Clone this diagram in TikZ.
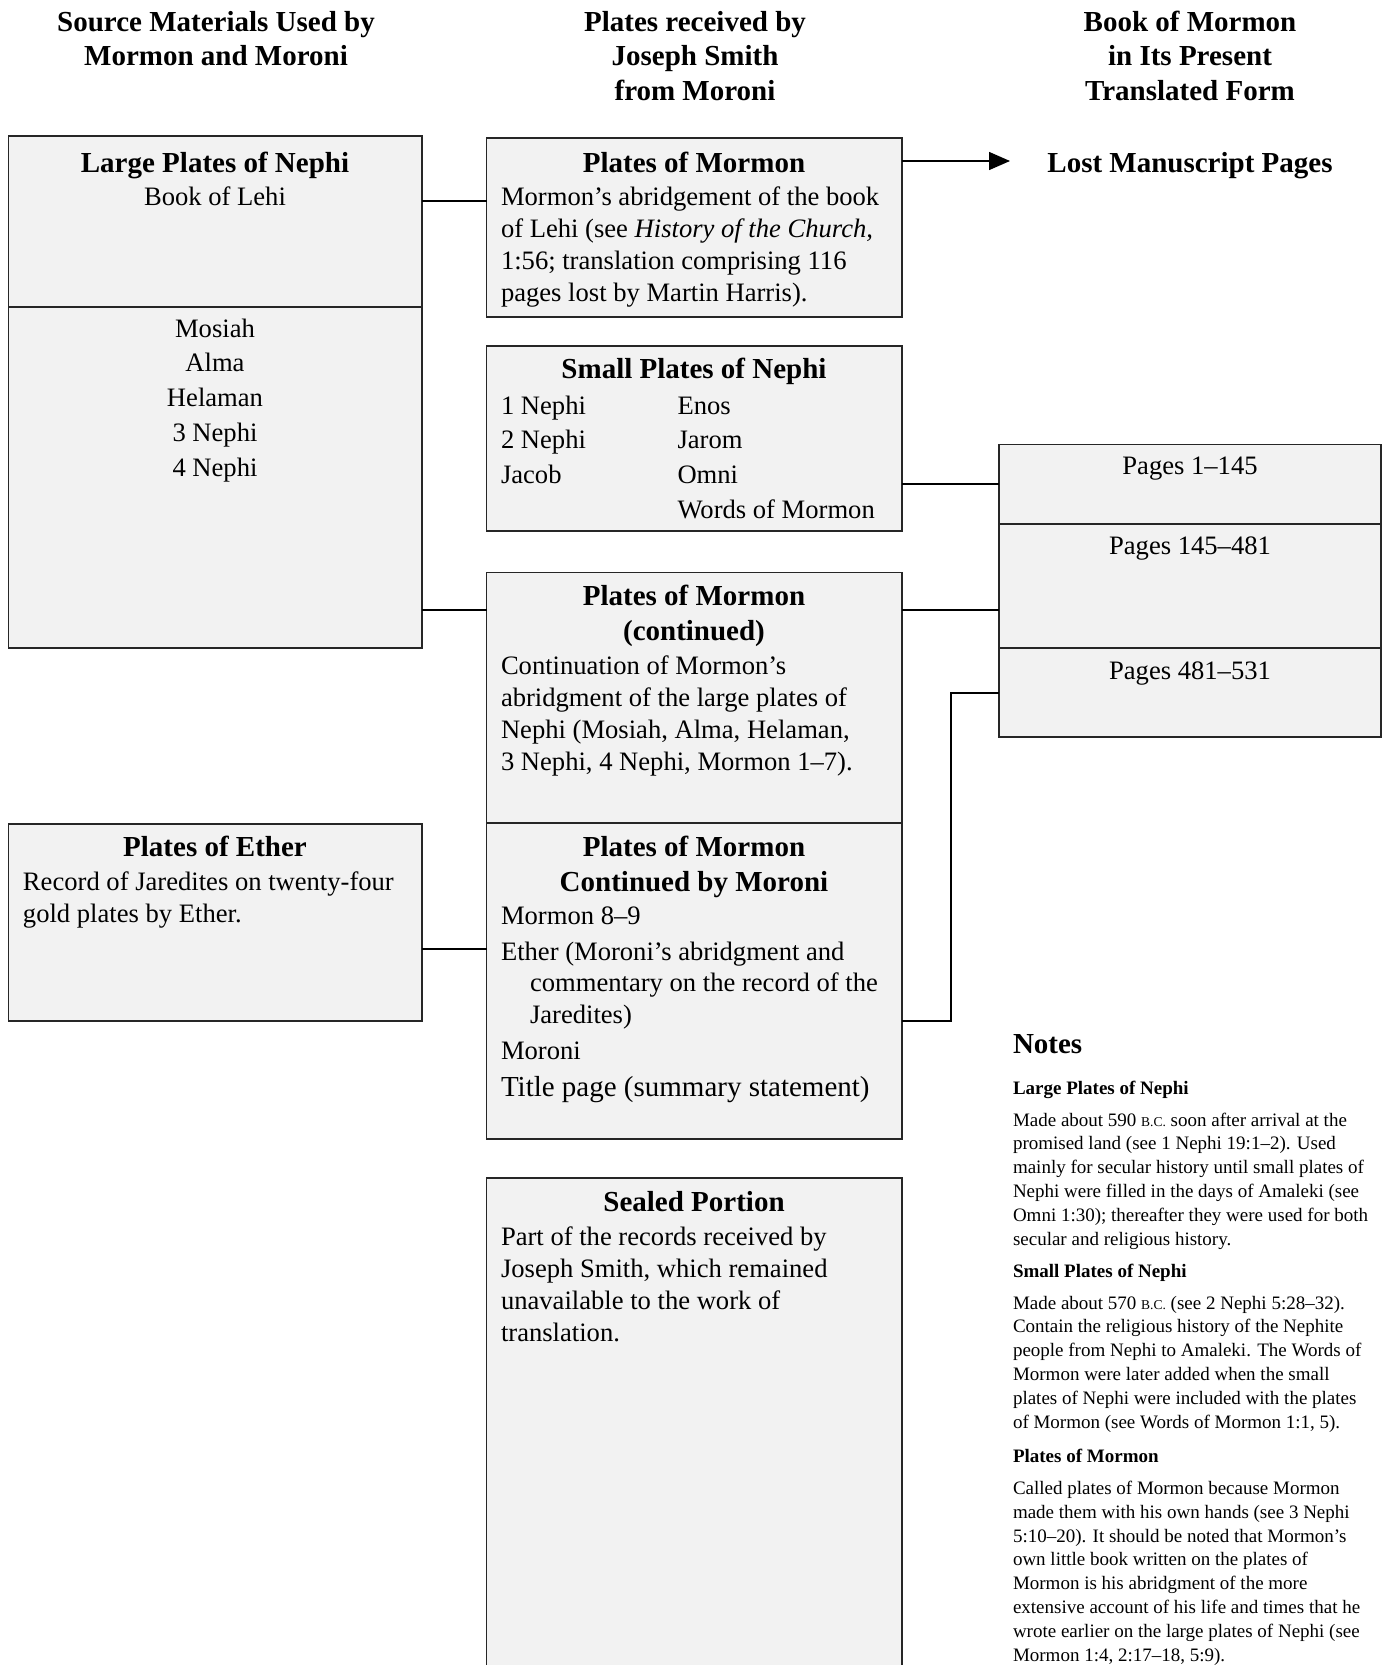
\documentclass[tikz,border=0pt]{standalone}
\usepackage{fontspec}
\setmainfont{Liberation Serif}
\usetikzlibrary{arrows.meta}
\definecolor{boxfill}{HTML}{F2F2F2}
\newcommand\fHead{\fontsize{29}{34.5}\selectfont\bfseries}
\newcommand\fBody{\fontsize{26.6}{32}\selectfont}
\newcommand\fList{\fontsize{26.6}{34.8}\selectfont}
\newcommand\fBig{\fontsize{29}{34}\selectfont}
\newcommand\fNote{\fontsize{19}{23.8}\selectfont}
\newcommand\fNoteHead{\fontsize{19}{23.8}\selectfont\bfseries}
\newcommand\fNotes{\fontsize{29}{34}\selectfont\bfseries}
\newcommand\smBC{{\fontsize{13.5}{20}\selectfont B.C.}}
\begin{document}
\begin{tikzpicture}[x=1pt, y=-1pt,
  every node/.style={inner sep=0pt, outer sep=0pt},
  box/.style={draw=black!85, line width=1.4pt, fill=boxfill, anchor=north west, inner sep=0pt},
  tc/.style={anchor=base, align=center},
  tl/.style={anchor=base west, align=left},
  conn/.style={draw=black, line width=2pt}]
\useasboundingbox (0,0) rectangle (1384,1665);
\fill[white] (0,0) rectangle (1384,1665);

% column headings (multi-line nodes: positioned at the baseline of their last line)
\node[tc, font=\fHead] (h1) at (216,65.5) {Source Materials Used by\\Mormon and Moroni};
\node[tc, font=\fHead] (h2) at (695,100) {Plates received by\\Joseph Smith\\from Moroni};
\node[tc, font=\fHead] (h3) at (1190,100) {Book of Mormon\\in Its Present\\Translated Form};

% boxes
\node[box, minimum width=413.5pt, minimum height=171pt] (lp1) at (8.5,136) {};
\node[box, minimum width=413.5pt, minimum height=341pt] (lp2) at (8.5,307) {};
\node[box, minimum width=415.5pt, minimum height=179pt] (pom) at (486.5,138) {};
\node[box, minimum width=415.5pt, minimum height=185pt] (sp) at (486.5,346) {};
\node[box, minimum width=415.5pt, minimum height=250.5pt] (pc) at (486.5,572.5) {};
\node[box, minimum width=415.5pt, minimum height=316pt] (pm) at (486.5,823) {};
\node[box, minimum width=413.5pt, minimum height=197pt] (eth) at (8.5,824) {};
\node[box, minimum width=382pt, minimum height=79.5pt] (pg1) at (999,444.5) {};
\node[box, minimum width=382pt, minimum height=124pt] (pg2) at (999,524) {};
\node[box, minimum width=382pt, minimum height=89pt] (pg3) at (999,648) {};
\begin{scope}
\clip (0,0) rectangle (1384,1665);
\node[box, minimum width=415.5pt, minimum height=600pt] (seal) at (486.5,1178) {};
\end{scope}

% connectors
\coordinate (lostTip) at (1010,161);
\coordinate (bend) at (951,1021);
\draw[conn] (lp1.east |- 0,201) -- (pom.west |- 0,201);
\draw[line width=1.5pt, -{Triangle[length=21pt,width=18pt]}] (pom.east |- lostTip) -- (lostTip);
\draw[conn] (sp.east |- 0,484) -- (pg1.west |- 0,484);
\draw[conn] (lp2.east |- 0,610) -- (pc.west |- 0,610);
\draw[conn] (pc.east |- 0,610) -- (pg2.west |- 0,610);
\draw[conn] (eth.east |- 0,949) -- (pm.west |- 0,949);
\draw[conn] (pm.east |- bend) -- (bend) |- (pg3.west);

% texts
\node[tc, font=\fHead] (lost) at (1190,172.5) {Lost Manuscript Pages};

\node[tc, font=\fHead] (lpT) at (215,172.5) {Large Plates of Nephi};
\node[tc, font=\fBody] (lpS) at (215,205) {Book of Lehi};
\node[tc, font=\fList] (lpL) at (215,476.2) {Mosiah\\Alma\\Helaman\\3 Nephi\\4 Nephi};

\node[tc, font=\fHead] (pomT) at (694,172.5) {Plates of Mormon};
\node[tl, font=\fBody] (pomB) at (501,301) {Mormon’s abridgement of the book\\of Lehi (see \textit{History of the Church,}\\1:56; translation comprising 116\\pages lost by Martin Harris).};

\node[tc, font=\fHead] (spT) at (694,378) {Small Plates of Nephi};
\node[tl, font=\fList] (spA) at (501,483.6) {1 Nephi\\2 Nephi\\Jacob};
\node[tl, font=\fList] (spB) at (677.5,518.4) {Enos\\Jarom\\Omni\\Words of Mormon};

\node[tc, font=\fHead] (pcT) at (694,640) {Plates of Mormon\\(continued)};
\node[tl, font=\fBody] (pcB) at (501,770) {Continuation of Mormon’s\\abridgment of the large plates of\\Nephi (Mosiah, Alma, Helaman,\\3 Nephi, 4 Nephi, Mormon 1–7).};

\node[tc, font=\fHead] (pmT) at (694,891) {Plates of Mormon\\Continued by Moroni};
\node[tl, font=\fBody] (pm1) at (501,924) {Mormon 8–9};
\node[tl, font=\fBody] (pm2) at (501,960) {Ether (Moroni’s abridgment and};
\node[tl, font=\fBody] (pm3) at (530,1023.5) {commentary on the record of the\\Jaredites)};
\node[tl, font=\fBody] (pm4) at (501,1059) {Moroni};
\node[tl, font=\fBig] (pm5) at (501,1096) {Title page (summary statement)};

\node[tc, font=\fHead] (ethT) at (215,856.5) {Plates of Ether};
\node[tl, font=\fBody] (ethB) at (23,922) {Record of Jaredites on twenty-four\\gold plates by Ether.};

\node[tc, font=\fBody] (pg1T) at (1190,474) {Pages 1–145};
\node[tc, font=\fBody] (pg2T) at (1190,554.5) {Pages 145–481};
\node[tc, font=\fBody] (pg3T) at (1190,679) {Pages 481–531};

\node[tc, font=\fHead] (sealT) at (694,1211.5) {Sealed Portion};
\node[tl, font=\fBody] (sealB) at (501,1341) {Part of the records received by\\Joseph Smith, which remained\\unavailable to the work of\\translation.};

% notes
\node[tl, font=\fNotes] (notes) at (1013,1053) {Notes};
\node[tl, font=\fNoteHead] (n1h) at (1013,1094.5) {Large Plates of Nephi};
\node[tl, font=\fNote] (n1) at (1013,1245) {Made about 590 \smBC{} soon after arrival at the\\promised land (see 1 Nephi 19:1–2). Used\\mainly for secular history until small plates of\\Nephi were filled in the days of Amaleki (see\\Omni 1:30); thereafter they were used for both\\secular and religious history.};
\node[tl, font=\fNoteHead] (n2h) at (1013,1277.5) {Small Plates of Nephi};
\node[tl, font=\fNote] (n2) at (1013,1428) {Made about 570 \smBC{} (see 2 Nephi 5:28–32).\\Contain the religious history of the Nephite\\people from Nephi to Amaleki. The Words of\\Mormon were later added when the small\\plates of Nephi were included with the plates\\of Mormon (see Words of Mormon 1:1, 5).};
\node[tl, font=\fNoteHead] (n3h) at (1013,1462) {Plates of Mormon};
\node[tl, font=\fNote] (n3) at (1013,1661) {Called plates of Mormon because Mormon\\made them with his own hands (see 3 Nephi\\5:10–20). It should be noted that Mormon’s\\own little book written on the plates of\\Mormon is his abridgment of the more\\extensive account of his life and times that he\\wrote earlier on the large plates of Nephi (see\\Mormon 1:4, 2:17–18, 5:9).};
\end{tikzpicture}
\end{document}
